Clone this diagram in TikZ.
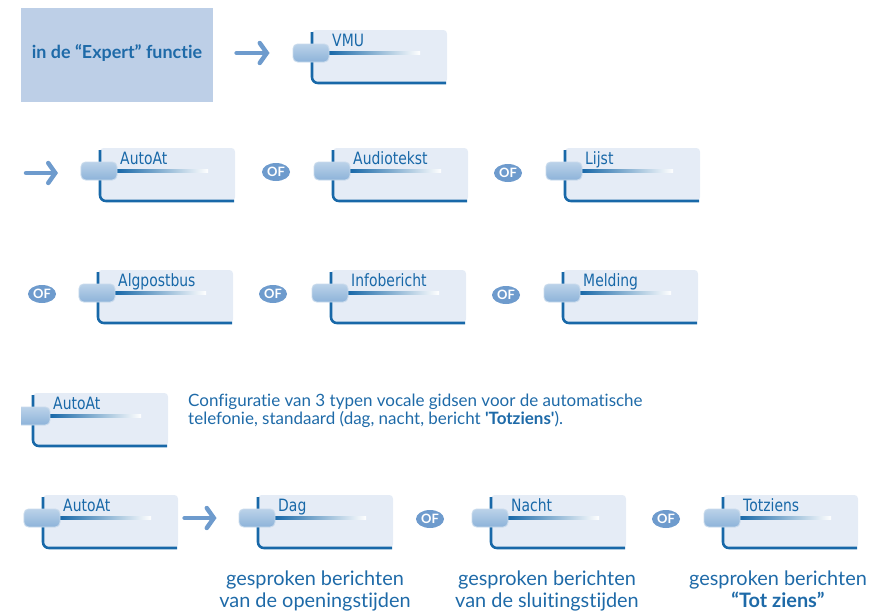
\documentclass[tikz,border=0pt]{standalone}
\usepackage{fontspec}
\setmainfont{Lato}[Ligatures={TeX,NoCommon}]
\newfontfamily\lcdfont[FakeStretch=0.82]{DejaVu Sans}
\usetikzlibrary{arrows.meta,calc,positioning,shapes.geometric}
\definecolor{lcdedge}{HTML}{1868A8}
\definecolor{lcdbg}{HTML}{E5ECF6}
\definecolor{txtblue}{HTML}{1E6AA8}
\definecolor{headbox}{HTML}{BDCFE7}
\definecolor{arrblue}{HTML}{6E9BCD}
\definecolor{pilltop}{HTML}{BBD2E9}
\definecolor{pillbot}{HTML}{8DB3D9}
\definecolor{pilledge}{HTML}{C8DAEC}
\tikzset{ofnode/.style={ellipse,fill=arrblue,text=white,font=\bfseries\fontsize{11}{11}\selectfont,minimum width=0.84cm,minimum height=0.54cm,inner sep=0pt},
goarrow/.style={arrblue,line width=3.8pt,line cap=round,-{Straight Barb[length=6pt,width=17pt,line cap=round]}}}

\begin{document}
\begin{tikzpicture}[x=0.03cm,y=-0.03cm]

\tikzset{pill/.style={shape=rectangle,rounded corners=4pt,top color=pilltop,bottom color=pillbot,draw=pilledge,line width=0.8pt,minimum width=1.08cm,minimum height=0.54cm,inner sep=0pt},
lcdtext/.style={font=\lcdfont\fontsize{14.5}{15}\selectfont,text=lcdedge,inner sep=0pt},
pics/lcd/.style={code={
  \fill[lcdbg,rounded corners=3] (0,0) rectangle (135,53);
  \draw[lcdedge,line width=2.2pt,rounded corners=5] (0,2) -- (0,53) -- (134,53);
  \shade[left color=lcdedge,right color=white] (17,21.8) rectangle (108,24.2);
  \node[pill] (-pill) at (-1,23) {};
  \node[lcdtext,anchor=base west] (-label) at (20,16) {#1};
}}}

\useasboundingbox (0,0) rectangle (882,612);

% Expert
\node[fill=headbox,minimum width=5.76cm,minimum height=2.82cm,inner sep=0pt] (expert) at (117,55) {};
\node[text=txtblue,font=\bfseries\fontsize{15.3}{17}\selectfont] (experttxt) at (117,53) {in de “Expert” functie};
\pic (vmu) at (312,30) {lcd={VMU}};
\draw[goarrow] ($(vmu-pill.west)+(-56,0)$) coordinate (arrE) -- ($(vmu-pill.west)+(-23,0)$) coordinate (arrF);

% Row 2
\coordinate (arrA) at (26,173);
\coordinate (arrB) at (58,173);
\draw[goarrow] (arrA) -- (arrB);
\pic (autoat) at (100,148) {lcd={AutoAt}};
\node[ofnode] (of1) at (276,172) {OF};
\pic (audio) at (333,148) {lcd={Audiotekst}};
\node[ofnode] (of2) at (508,173) {OF};
\pic (lijst) at (565,148) {lcd={Lijst}};

% Row 3
\node[ofnode] (of3) at (42,294) {OF};
\pic (algpost) at (98,270) {lcd={Algpostbus}};
\node[ofnode] (of4) at (273,294) {OF};
\pic (info) at (331,270) {lcd={Infobericht}};
\node[ofnode] (of5) at (506,295) {OF};
\pic (melding) at (563,270) {lcd={Melding}};

% Row 4
\begin{scope}
\clip (21,380) rectangle (200,460);
\pic (autoatb) at (33,393) {lcd={AutoAt}};
\end{scope}
\node[text=txtblue,font=\fontsize{14.5}{13.2}\selectfont,align=left,anchor=base west,inner sep=0pt] (uitleg) at (188,424)
 {Configuratie van 3 typen vocale gidsen voor de automatische\\telefonie, standaard (dag, nacht, bericht \textbf{\textquotesingle Totziens\textquotesingle}).};

% Row 5
\pic (autoatc) at (43,495) {lcd={AutoAt}};
\pic (dag) at (258,495) {lcd={Dag}};
\draw[goarrow] ($(dag-pill.west)+(-54,0)$) coordinate (arrC) -- ($(dag-pill.west)+(-22,0)$) coordinate (arrD);
\node[ofnode] (of6) at (430,519) {OF};
\pic (nacht) at (491,495) {lcd={Nacht}};
\node[ofnode] (of7) at (666,519) {OF};
\pic (totziens) at (723,495) {lcd={Totziens}};

% Texts under
\tikzset{subtxt/.style={text=txtblue,font=\fontsize{17}{18.7}\selectfont,align=center,anchor=base}}
\node[subtxt] (dagtxt) at (315,607) {gesproken berichten\\van de openingstijden};
\node[subtxt] (nachttxt) at (547,607) {gesproken berichten\\van de sluitingstijden};
\node[subtxt] (tottxt) at (778,607) {gesproken berichten\\\textbf{“Tot ziens”}};

\end{tikzpicture}
\end{document}
